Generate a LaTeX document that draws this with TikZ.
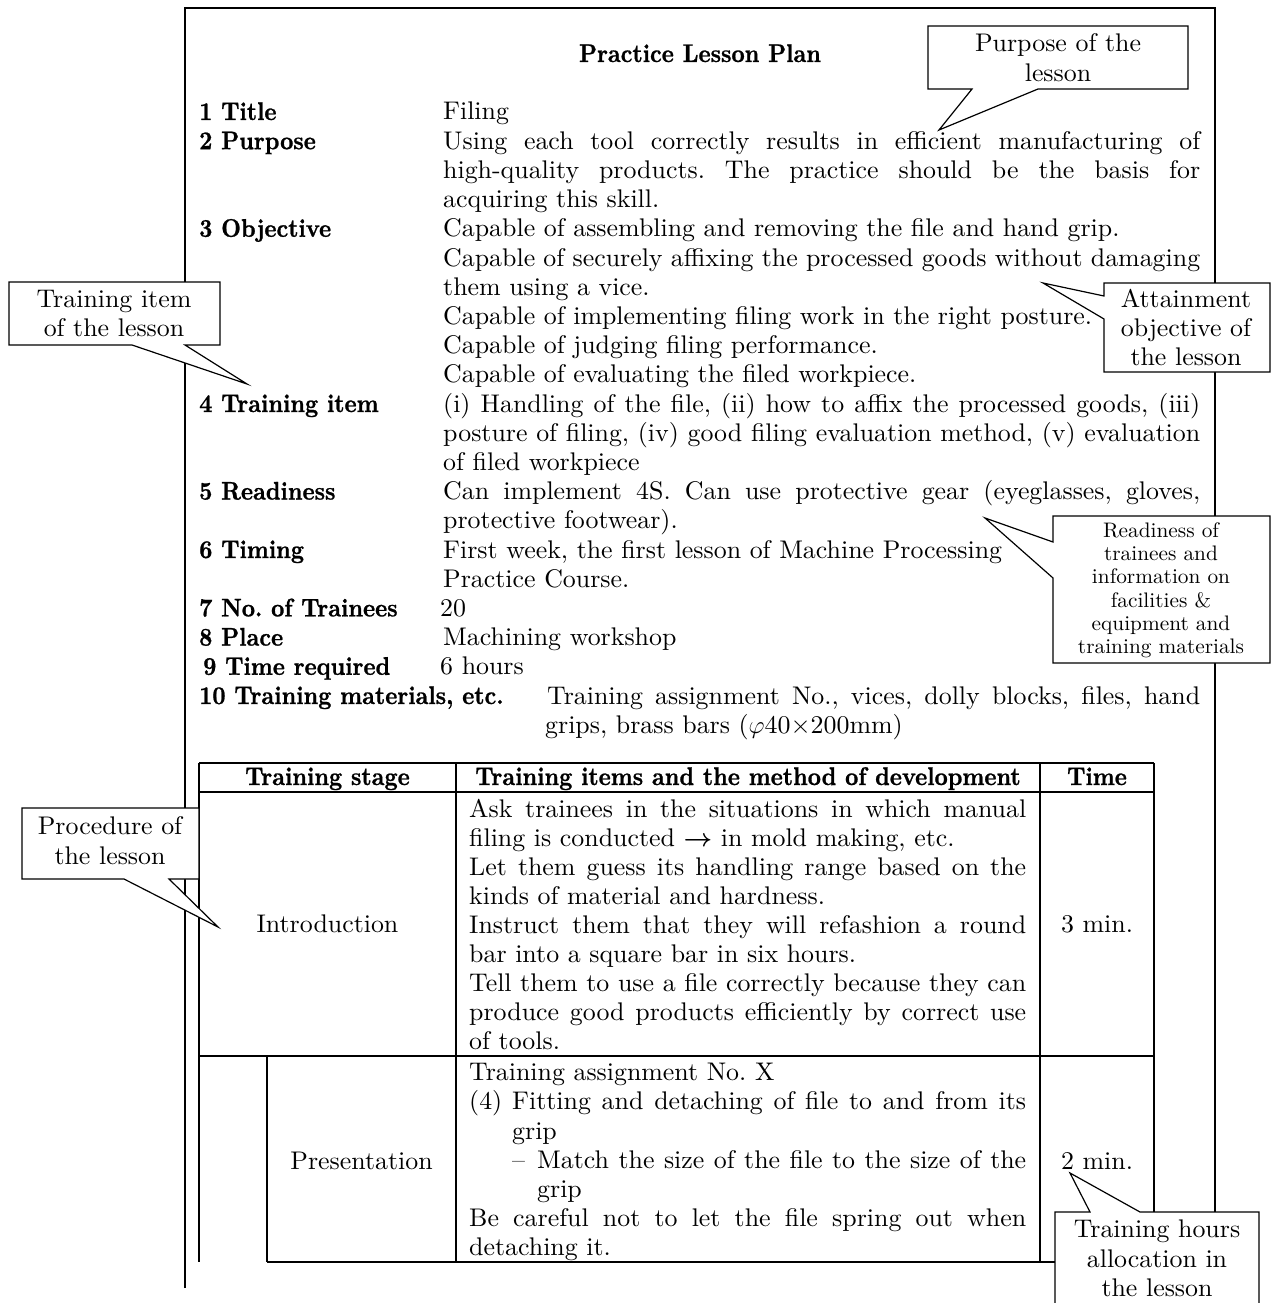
\documentclass[tikz,border=0pt]{standalone}
\usepackage{fontspec}
\usepackage{amsmath}
% Latin Modern (10pt design) for the body text, a narrowed heavy bold for the headings
\setmainfont{lmroman10-regular.otf}[FakeStretch=1.015]
\newfontfamily\headfont{lmroman10-bold.otf}[FakeStretch=0.9, FakeBold=0.9]
\newcommand\mainsize{\fontsize{25.5}{29.2}\selectfont}
\newcommand\notesize{\fontsize{21}{23.3}\selectfont}
% a line stretched to a fixed width (justified line)
\newcommand\jl[2]{\makebox[#1pt][s]{#2}}
\tikzset{
  txt/.style={anchor=base west, inner sep=0pt, font=\mainsize},
  lbl/.style={anchor=base west, inner sep=0pt, font=\mainsize\headfont},
  ctr/.style={anchor=base, inner sep=0pt, font=\mainsize},
  bctr/.style={anchor=base, inner sep=0pt, font=\mainsize\headfont},
  note/.style={anchor=base, inner sep=0pt, font=\notesize},
  frameline/.style={line width=1.3pt},
  rule/.style={line width=1.7pt},
  callout/.style={draw, fill=white, line width=1.2pt, line join=miter},
}
\begin{document}
\frenchspacing
\begin{tikzpicture}[x=1pt, y=-1pt]
\path[use as bounding box] (0,0) rectangle (1271,1303);
\clip (0,0) rectangle (1271,1303);
\fill[white] (0,0) rectangle (1271,1303);

% page frame
\draw[frameline] (185,1288) -- (185,8) -- (1215,8) -- (1215,1212);

% heading
\node[bctr] (title) at (700,62) {Practice Lesson Plan};

% item labels
\node[lbl] (lab1) at (199,120) {1 Title};
\node[lbl] (lab2) at (199,149.2) {2 Purpose};
\node[lbl] (lab3) at (199,236.8) {3 Objective};
\node[lbl] (lab4) at (199,412) {4 Training item};
\node[lbl] (lab5) at (199,499.6) {5 Readiness};
\node[lbl] (lab6) at (199,558) {6 Timing};
\node[lbl] (lab7) at (199,616.4) {7 No. of Trainees};
\node[lbl] (lab8) at (199,645.6) {8 Place};
\node[lbl] (lab9) at (203,674.8) {9 Time required};
\node[lbl] (lab10) at (199,704) {10 Training materials, etc.};

% item contents
\node[txt] (v1) at (443,120) {Filing};
\node[txt] (v2a) at (443,149.2) {\jl{757}{Using each tool correctly results in efficient manufacturing of}};
\node[txt] (v2b) at (443,178.4) {\jl{757}{high-quality products. The practice should be the basis for}};
\node[txt] (v2c) at (443,207.6) {acquiring this skill.};
\node[txt] (v3a) at (443,236.8) {Capable of assembling and removing the file and hand grip.};
\node[txt] (v3b) at (443,266) {\jl{757}{Capable of securely affixing the processed goods without damaging}};
\node[txt] (v3c) at (443,295.2) {them using a vice.};
\node[txt] (v3d) at (443,324.4) {Capable of implementing filing work in the right posture.};
\node[txt] (v3e) at (443,353.6) {Capable of judging filing performance.};
\node[txt] (v3f) at (443,382.8) {Capable of evaluating the filed workpiece.};
\node[txt] (v4a) at (443,412) {\jl{757}{(i) Handling of the file, (ii) how to affix the processed goods, (iii)}};
\node[txt] (v4b) at (443,441.2) {\jl{757}{posture of filing, (iv) good filing evaluation method, (v) evaluation}};
\node[txt] (v4c) at (443,470.4) {of filed workpiece};
\node[txt] (v5a) at (443,499.6) {\jl{757}{Can implement 4S. Can use protective gear (eyeglasses, gloves,}};
\node[txt] (v5b) at (443,528.8) {protective footwear).};
\node[txt] (v6a) at (443,558) {First week, the first lesson of Machine Processing};
\node[txt] (v6b) at (443,587.2) {Practice Course.};
\node[txt] (v7) at (440,616.4) {20};
\node[txt] (v8) at (443,645.6) {Machining workshop};
\node[txt] (v9) at (440,674.8) {6 hours};
\node[txt] (v10a) at (547,704) {\jl{653}{Training assignment No., vices, dolly blocks, files, hand}};
\node[txt] (v10b) at (545,733.2) {grips, brass bars ($\varphi$40×200mm)};

% table rules
\draw[rule] (199,763) -- (1154,763);
\draw[rule] (199,792) -- (1154,792);
\draw[rule] (199,1056) -- (1154,1056);
\draw[rule] (267,1262) -- (1154,1262);
\draw[rule] (199,763) -- (199,1262);
\draw[rule] (456,763) -- (456,1262);
\draw[rule] (1040,763) -- (1040,1262);
\draw[rule] (1154,763) -- (1154,1262);
\draw[rule] (267,1056) -- (267,1262);

% table header
\node[bctr] (h1) at (327.5,785) {Training stage};
\node[bctr] (h2) at (748,785) {Training items and the method of development};
\node[bctr] (h3) at (1097,785) {Time};

% introduction row
\node[ctr] (intro) at (327.5,932) {Introduction};
\node[ctr] (time1) at (1097,932) {3 min.};
\node[txt] (r1a) at (469,817) {\jl{557}{Ask trainees in the situations in which manual}};
\node[txt] (r1b) at (469,846.1) {filing is conducted $\boldsymbol{\rightarrow}$ in mold making, etc.};
\node[txt] (r1c) at (469,875.2) {\jl{557}{Let them guess its handling range based on the}};
\node[txt] (r1d) at (469,904.3) {kinds of material and hardness.};
\node[txt] (r1e) at (469,933.4) {\jl{557}{Instruct them that they will refashion a round}};
\node[txt] (r1f) at (469,962.5) {bar into a square bar in six hours.};
\node[txt] (r1g) at (469,991.6) {\jl{557}{Tell them to use a file correctly because they can}};
\node[txt] (r1h) at (469,1020.7) {\jl{557}{produce good products efficiently by correct use}};
\node[txt] (r1i) at (469,1049.8) {of tools.};

% presentation row
\node[ctr] (pres) at (361.5,1169) {Presentation};
\node[ctr] (time2) at (1097,1169) {2 min.};
\node[txt] (r2a) at (469,1080) {Training assignment No. X};
\node[txt] (r2b) at (469,1109) {(4)};
\node[txt] (r2c) at (512,1109) {\jl{514}{Fitting and detaching of file to and from its}};
\node[txt] (r2d) at (512,1139) {grip};
\node[txt] (r2e) at (512,1168) {–};
\node[txt] (r2f) at (537,1168) {\jl{489}{Match the size of the file to the size of the}};
\node[txt] (r2g) at (537,1197) {grip};
\node[txt] (r2h) at (469,1226) {\jl{557}{Be careful not to let the file spring out when}};
\node[txt] (r2i) at (469,1255) {detaching it.};

% callouts
\path[callout] (928,26) -- (1188,26) -- (1188,89) -- (1038,89) -- (939,130) -- (972,89) -- (928,89) -- cycle;
\node[ctr] (cp1) at (1058,52) {Purpose of the};
\node[ctr] (cp2) at (1058,82) {lesson};

\path[callout] (1104,283) -- (1270,283) -- (1270,372) -- (1104,372) -- (1104,319) -- (1043,283) -- (1104,296) -- cycle;
\node[ctr] (ca1) at (1186,307) {Attainment};
\node[ctr] (ca2) at (1186,336) {objective of};
\node[ctr] (ca3) at (1186,365) {the lesson};

\path[callout] (1053,516) -- (1270,516) -- (1270,663) -- (1053,663) -- (1053,578) -- (985,518) -- (1053,542) -- cycle;
\node[note] (cr1) at (1161,537) {Readiness of};
\node[note] (cr2) at (1161,560) {trainees and};
\node[note] (cr3) at (1161,583) {information on};
\node[note] (cr4) at (1161,607) {facilities \&};
\node[note] (cr5) at (1161,630) {equipment and};
\node[note] (cr6) at (1161,653) {training materials};

\path[callout] (9,282) -- (220,282) -- (220,345) -- (185,345) -- (247,384) -- (132,345) -- (9,345) -- cycle;
\node[ctr] (ct1) at (114,307) {Training item};
\node[ctr] (ct2) at (114,336) {of the lesson};

\path[callout] (22,808) -- (199,808) -- (199,879) -- (169,879) -- (218,927) -- (124,879) -- (22,879) -- cycle;
\node[ctr] (cq1) at (110,834) {Procedure of};
\node[ctr] (cq2) at (110,864) {the lesson};

\path[callout] (1055,1212) -- (1090,1212) -- (1070,1173) -- (1140,1212) -- (1259,1212) -- (1259,1330) -- (1055,1330) -- cycle;
\node[ctr] (ch1) at (1157,1237) {Training hours};
\node[ctr] (ch2) at (1157,1267) {allocation in};
\node[ctr] (ch3) at (1157,1296) {the lesson};
\end{tikzpicture}
\end{document}
